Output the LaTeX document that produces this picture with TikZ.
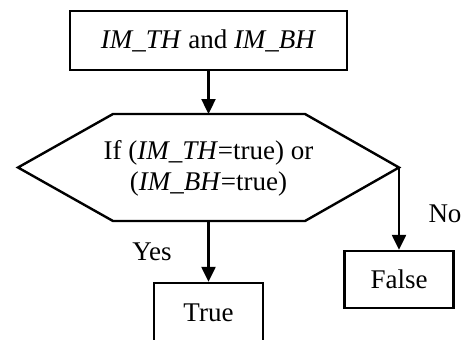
\documentclass[tikz,border=0pt]{standalone}
\usepackage{fontspec}
\setmainfont{Liberation Serif}
\usetikzlibrary{arrows.meta}
\begin{document}
\begin{tikzpicture}[x=1pt,y=-1pt,
  box/.style={draw, line width=2.4pt, minimum width=#1, inner sep=0pt},
  lbl/.style={inner sep=0pt},
  conn/.style={line width=2.4pt, -{Triangle[length=15pt,width=14pt]}},
  every node/.style={font=\fontsize{27}{31}\selectfont}]
\useasboundingbox (0,0) rectangle (464,340);
\node[box=277pt, minimum height=59pt] (inp) at (208.5,40.5) {\textit{IM\_TH} and \textit{IM\_BH}};
\coordinate (hexT) at (208.5,114);
\coordinate (hexB) at (208.5,221);
\coordinate (hexL) at (18,167.5);
\coordinate (hexR) at (399,167.5);
\draw[line width=2.4pt, line join=miter] (hexL) -- (113,114) -- (305,114) -- (hexR) -- (305,221) -- (113,221) -- cycle;
\node[align=center, inner sep=0pt] (cond) at (208.5,168) {If (\textit{IM\_TH}=true) or\\(\textit{IM\_BH}=true)};
\node[box=109pt, minimum height=59pt] (true) at (208.5,312.5) {True};
\node[box=109pt, minimum height=57pt] (false) at (399,279.5) {False};
\node[lbl] (yes) at (152,252) {Yes};
\node[lbl] (no) at (445,214) {No};
\draw[conn] (inp.south) -- (hexT);
\draw[conn] (hexB) -- (true.north);
\draw[conn] (hexR) -- (false.north);
\end{tikzpicture}
\end{document}
